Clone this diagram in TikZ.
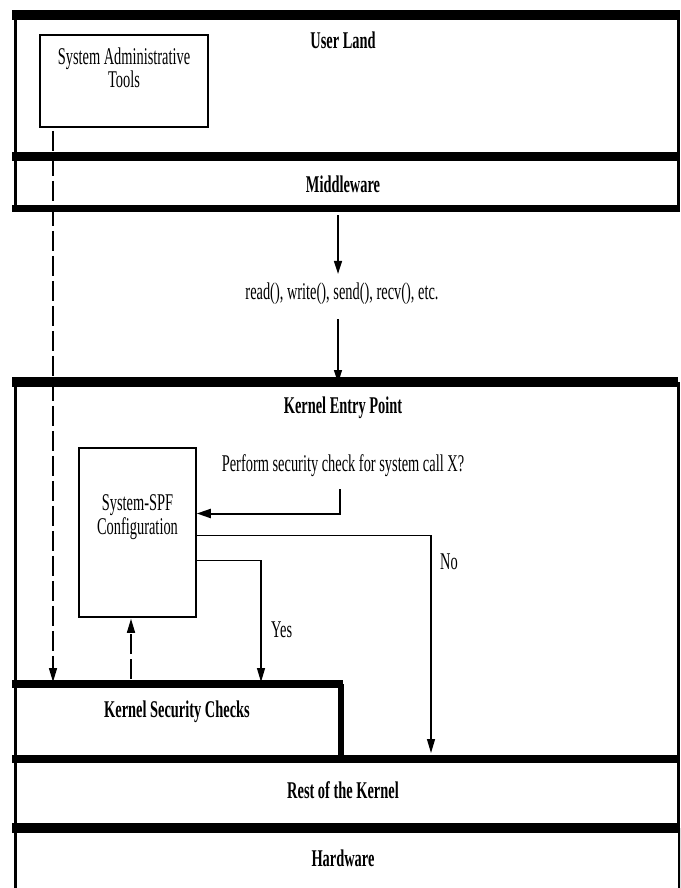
\documentclass[tikz,border=0pt]{standalone}
\usepackage{fontspec}
\setmainfont{Liberation Serif}[FakeStretch=0.6]
\usetikzlibrary{arrows.meta}
\begin{document}
\begin{tikzpicture}[x=1pt,y=-1pt,
  layer/.style={draw, line width=3pt, inner sep=0pt, anchor=north west},
  band/.style={fill=black},
  thinbox/.style={draw, line width=1.5pt, inner sep=0pt},
  lbl/.style={font=\fontsize{24}{23.5}\selectfont\bfseries, inner sep=0pt},
  txt/.style={font=\fontsize{24}{23.5}\selectfont, inner sep=0pt, align=center},
  bigarr/.style={line width=1.5pt, -{Triangle[length=13pt,width=8pt]}},
  arr/.style={line width=1.2pt, -{Triangle[length=14pt,width=8pt]}},
  dasharr/.style={line width=1.5pt, dash pattern=on 20pt off 5pt, -{Triangle[length=14pt,width=8pt]}}
]
\useasboundingbox (0,0) rectangle (680,888);
\clip (0,0) rectangle (680,888);
\fill[white] (0,0) rectangle (680,888);

% layer boxes
\node[layer, minimum width=663pt, minimum height=145pt] (ul) at (13.5,10) {};
\node[layer, minimum width=663pt, minimum height=54pt] (mid) at (13.5,155) {};
\node[layer, minimum width=663pt, minimum height=377pt] (ke) at (13.5,382) {};
\node[layer, minimum width=327pt, minimum height=75pt] (ksc) at (13.5,684) {};
\node[layer, minimum width=663pt, minimum height=69pt] (rest) at (13.5,759) {};
\node[layer, minimum width=664pt, minimum height=80pt] (hw) at (13.5,828) {};

% thick top bands
\fill[band] (12,10) rectangle (678,20);
\fill[band] (12,152) rectangle (678,161);
\fill[band] (12,205) rectangle (678,212);
\fill[band] (12,377) rectangle (678,387);
\fill[band] (12,680) rectangle (343,688);
\fill[band] (338,680) rectangle (343,757);
\fill[band] (12,755) rectangle (678,763);
\fill[band] (12,823) rectangle (680,833);

% layer labels
\node[lbl] (tul) at (343,40) {User Land};
\node[lbl] (tmid) at (343,184) {Middleware};
\node[lbl] (tke) at (343,408) {Kernel Entry Point};
\node[lbl] (tksc) at (177,712) {Kernel Security Checks};
\node[lbl] (trest) at (343,790) {Rest of the Kernel};
\node[lbl] (thw) at (343,858) {Hardware};

% inner boxes
\node[thinbox, minimum width=168pt, minimum height=92pt] (sat) at (124,81) {};
\node[txt] (tsat) at (124,68) {System Administrative\\Tools};
\node[thinbox, minimum width=117pt, minimum height=169pt] (spf) at (137.5,532.5) {};
\node[txt] (tspf) at (137.5,517) {System-SPF\\Configuration};

% call arrows
\node[txt] (tcalls) at (342,294) {read(), write(), send(), recv(), etc.};
\coordinate (cx) at (338,0);
\draw[bigarr] (cx |- mid.south) ++(0,3) -- ([yshift=9pt]cx |- tcalls.north) coordinate (c1);
\draw[bigarr] ([yshift=-14pt]cx |- tcalls.south) -- ([yshift=-1pt]cx |- ke.north);

% question
\node[txt] (tq) at (343,466) {Perform security check for system call X?};
\coordinate (qx) at (340,0);
\draw[line width=2pt, -{Triangle[length=14pt,width=9pt]}] ([yshift=-12pt]qx |- tq.south) |- ([yshift=19pt]spf.east);

% No
\coordinate (nx) at (431,0);
\draw[arr] ([yshift=-3pt]spf.east) -| ([yshift=6pt]nx |- rest.north);
\node[txt, anchor=west] (tno) at (440,562) {No};

% Yes
\coordinate (yx) at (261,0);
\draw[arr] ([yshift=-28pt]spf.east) -| ([yshift=2pt]yx |- ksc.north);
\node[txt, anchor=west] (tyes) at (271,630) {Yes};

% dashed
\coordinate (dx1) at (53,0);
\draw[dasharr] ([yshift=-3pt]dx1 |- sat.south) -- ([yshift=2pt]dx1 |- ksc.north);
\coordinate (dx2) at (131,0);
\draw[dasharr] ([yshift=5pt]dx2 |- ksc.north) -- ([yshift=-1pt]dx2 |- spf.south);
\end{tikzpicture}
\end{document}
